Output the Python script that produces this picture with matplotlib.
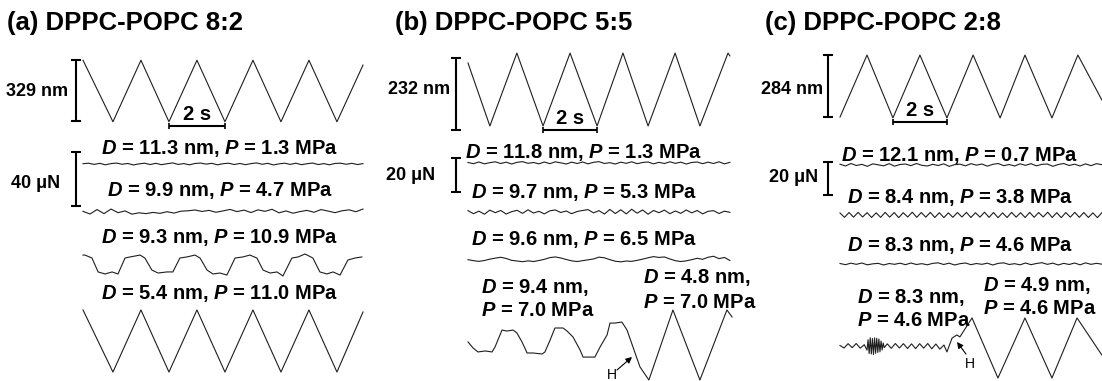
import numpy as np
import matplotlib
matplotlib.use('Agg')
import matplotlib.pyplot as plt
import matplotlib.patches as patches

plt.rcParams['font.family'] = ['Liberation Sans', 'DejaVu Sans']
plt.rcParams['mathtext.fontset'] = 'custom'
plt.rcParams['mathtext.it'] = 'Liberation Sans:italic:bold'
plt.rcParams['mathtext.rm'] = 'Liberation Sans:bold'
plt.rcParams['mathtext.bf'] = 'Liberation Sans:bold'

# ---------------- data (time in s, drive in nm, friction in uN) ----------------
titles = ['(a) DPPC-POPC 8:2', '(b) DPPC-POPC 5:5', '(c) DPPC-POPC 2:8']
drive_span = [329, 232, 284]       # nm scale bars
force_span = [40, 20, 20]          # uN scale bars

# drive (upper) triangle traces
drive_a_t = [0, 1.07, 2.07, 3.07, 4.07, 5.07, 6.07, 7.07, 8.07, 9.07, 10.0]
drive_a_v = [166, -166, 166, -166, 166, -166, 166, -166, 166, -166, 140]
drive_b_t = [0, 0.81, 1.81, 2.78, 3.78, 4.78, 5.74, 6.67, 7.67, 8.59, 9.63, 9.7]
drive_b_v = [87, -116, 119, -116, 119, -116, 119, -116, 119, -116, 119, 110]
drive_c_t = [0, 1.0, 1.96, 2.96, 3.96, 4.93, 5.93, 6.85, 7.85, 8.81, 9.7]
drive_c_v = [-140, 144, -144, 144, -144, 144, -144, 144, -144, 144, -62]

# panel (a) friction traces
fa1 = [0.2, 0.6, -0.3, 0.5, -0.6, 0.3, 0.7, -0.2, 0.4, -0.7, 0.1, 0.6, -0.4, 0.5, -0.5, 0.2,
       0.8, -0.3, 0.3, -0.6, 0.4, 0.7, -0.1, 0.5, -0.6, 0.2, 0.6, -0.4, 0.4, -0.5, 0.3, 0.8,
       -0.2, 0.5, -0.7, 0.1, 0.6, -0.3, 0.6, -0.5, 0.2, 0.7, -0.4, 0.3, -0.6, 0.4, 0.6, -0.2,
       0.5, -0.4, 0.3]
fa2 = [0.5, -1.5, 1.8, -1.2, 2.2, -0.5, 0.8, -1.6, -0.6, -1.2, -0.3, -1.0, 0.2, -0.8, 0.6,
       0.9, 1.5, 0.4, 1.2, -0.2, 0.8, 1.9, 0.3, 1.4, -0.4, 1.6, 0.5, 2.0, -0.6, 0.8, -0.9,
       0.3, 1.2, -0.2, 1.8, 0.7, -0.5, 0.9, 1.6, 0.2, 2.2]
fa3_t = [0, 0.07, 0.32, 0.54, 0.79, 1.04, 1.25, 1.5, 1.68, 2.04, 2.21, 2.46, 2.68, 3.0, 3.21,
         3.46, 3.71, 4.0, 4.18, 4.43, 4.64, 4.89, 5.14, 5.43, 5.71, 5.96, 6.21, 6.43, 6.68,
         6.93, 7.14, 7.46, 7.68, 7.93, 8.21, 8.46, 8.71, 8.93, 9.18, 9.46, 9.71, 9.96]
fa3_v = [8.1, 8.1, 5.9, -4.4, -5.9, -4.4, -5.9, 5.9, 6.7, 8.1, 5.9, -3.0, -5.2, -4.4, -4.4,
         5.9, 6.7, 8.1, 5.9, -3.0, -5.9, -5.2, -6.7, 5.9, 6.7, 8.1, 5.9, -3.0, -5.2, -4.4,
         -7.4, 5.9, 6.7, 8.9, 5.9, -4.4, -5.9, -4.4, -6.7, 4.4, 5.9, 6.7]
fa4_t = [0, 1.07, 2.07, 3.07, 4.07, 5.07, 6.07, 7.07, 8.07, 9.07, 10.0]
fa4_v = [23, -23, 23, -23, 23, -23, 23, -23, 23, -23, 21.5]

# panel (b) friction traces
fb1 = [0.3, -0.4, 0.6, -0.5, 0.2, 0.7, -0.3, 0.5, -0.6, 0.4, 0.8, -0.2, 0.3, -0.5, 0.6, -0.4,
       0.7, 0.1, -0.6, 0.5, -0.3, 0.6, -0.5, 0.4, 0.8, -0.3, 0.2, -0.6, 0.5, -0.2, 0.7, -0.4,
       0.3, 0.6, -0.5, 0.4, -0.3, 0.7, -0.2, 0.5, -0.6, 0.3, 0.6, -0.4, 0.5, -0.3, 0.7, -0.5, 0.4]
fb2 = [0.8, -1.0, 0.5, -1.3, 1.1, -0.4, 0.9, -1.2, 0.2, 1.0, -0.8, 1.3, -0.6, 0.4, -1.1, 0.7,
       1.2, -0.3, 0.6, -1.0, 0.3, 0.9, 1.4, -0.5, 0.8, -1.2, 1.5, -0.9, 1.3, -1.1, 1.6, -0.7,
       1.2, -1.3, 0.9, -0.4, 1.1, -1.0, 0.6, -0.8, 1.2, -0.5, 0.9, -1.1, 0.4, 0.8, -0.9, 0.5, -0.2]
fb3 = [0.2, -0.4, -0.8, -0.3, 0.5, 1.1, 1.6, 0.9, -0.2, -0.6, -1.0, -0.5, -0.9, -0.3, 0.4, 1.4,
       1.8, 1.2, 0.3, -0.5, -0.9, -0.4, 0.1, 0.6, 1.7, 1.3, 0.2, -0.7, -1.1, -0.6, -0.8, -0.2,
       0.5, 1.3, 2.0, 1.5, 1.8, 0.6, -0.4, -0.9, -0.5, 0.2, 1.0, 0.4, 1.6, 2.2, 0.8, 1.5, -0.3]
fb4_t = [0, 0.19, 0.37, 0.63, 0.89, 1.0, 1.26, 1.44, 1.67, 1.81, 2.0, 2.19, 2.41, 2.74, 2.85,
         3.04, 3.22, 3.52, 3.67, 3.89, 4.15, 4.26, 4.52, 4.70, 4.89, 5.15, 5.26, 5.44, 5.70,
         5.89, 6.11, 6.37, 6.70, 7.59, 8.59, 9.59, 9.78]
fb4_v = [1.8, -1.8, -4.1, -3.5, -4.1, -1.2, 8.8, 8.2, 8.8, 7.1, 1.8, -4.7, -4.7, -5.3, -4.1,
         2.9, 10.0, 10.0, 8.2, 4.7, -2.9, -7.1, -7.1, -7.1, -1.2, 5.9, 12.9, 12.9, 13.5,
         8.8, -1.2, -12.9, -20.6, 20.6, -20.6, 20.6, 16.5]

# panel (c) friction traces
fc1 = [0.5, -0.6, 0.9, -0.3, 0.4, -0.8, 0.7, 0.1, -0.5, 0.8, -0.7, 0.3, 0.6, -0.4, 0.9, -0.2,
       -0.6, 0.4, -0.3, 0.7, -0.8, 0.2, 0.5, -0.5, 0.8, -0.1, 0.6, -0.7, 0.4, 0.9, -0.4, 0.3,
       -0.6, 0.7, -0.2, 0.8, -0.5, 0.4, 0.6, -0.8, 0.3, 0.9, -0.3, 0.5, -0.6, 0.7, -0.4, 0.8, 0.2]
fc2 = [1.2, -1.4, 1.5, -1.3, 1.6, -1.2, 1.4, -1.5, 1.3, -1.4, 1.6, -1.3, 1.5, -1.6, 1.4, -1.2,
       1.7, -1.4, 1.5, -1.3, 1.6, -1.5, 1.4, -1.6, 1.3, -1.4, 1.5, -1.2, 1.6, -1.5, 1.4, -1.3,
       1.7, -1.4, 1.5, -1.6, 1.3, -1.5, 1.6, -1.3, 1.4, -1.5, 1.6, -1.4, 1.5, -1.2, 1.7, -1.5,
       1.4, -1.6, 1.5, -1.3, 1.6, -1.4, 1.5, -1.5, 1.3, -1.6, 1.4]
fc3 = [0.3, -0.4, 0.5, -0.2, 0.6, -0.5, 0.1, 0.4, -0.6, 0.3, -0.2, 0.5, -0.4, 0.6, -0.3, 0.2,
       -0.5, 0.4, 0.7, -0.3, 0.5, -0.6, 0.2, 0.6, -0.4, 0.3, -0.2, 0.5, -0.6, 0.4, 0.7, -0.3,
       0.2, -0.5, 0.6, -0.4, 0.3, 0.8, -0.2, 0.5, -0.6, 0.4, -0.3, 0.6, -0.5, 0.7, -0.2, 0.4, -0.1]
fc4_t = [0, 0.15, 0.3, 0.45, 0.6, 0.75, 0.9,
         1.0, 1.04, 1.08, 1.12, 1.16, 1.2, 1.24, 1.28, 1.32, 1.36, 1.4, 1.44, 1.48, 1.52,
         1.56, 1.6, 1.64,
         1.75, 1.9, 2.05, 2.2, 2.35, 2.5, 2.65, 2.8, 2.95, 3.1, 3.25, 3.4, 3.55, 3.7, 3.85, 3.96,
         4.15, 4.33, 4.44, 4.89, 5.85, 6.85, 7.85, 8.78, 9.7]
fc4_v = [0.3, -1.2, 1.4, -1.0, 1.5, -1.3, 0.8,
         -2.5, 3.8, -4.6, 5.0, -4.8, 4.5, -5.2, 4.9, -4.4, 4.7, -3.9, 4.2, -3.5, 3.0,
         -2.4, 1.8, -1.0,
         1.3, -1.4, 1.5, -1.2, 1.4, -1.5, 1.3, -1.6, 1.4, -1.3, 1.5, -1.7, 1.2, -1.9, 0.6, -3.6,
         4.8, 6.7, 5.5, 17.0, -19.4, 17.0, -19.4, 17.0, -5.5]

labels_a = ['$D$ = 11.3 nm, $P$ = 1.3 MPa', '$D$ = 9.9 nm, $P$ = 4.7 MPa',
            '$D$ = 9.3 nm, $P$ = 10.9 MPa', '$D$ = 5.4 nm, $P$ = 11.0 MPa']
labels_b = ['$D$ = 11.8 nm, $P$ = 1.3 MPa', '$D$ = 9.7 nm, $P$ = 5.3 MPa',
            '$D$ = 9.6 nm, $P$ = 6.5 MPa']
labels_c = ['$D$ = 12.1 nm, $P$ = 0.7 MPa', '$D$ = 8.4 nm, $P$ = 3.8 MPa',
            '$D$ = 8.3 nm, $P$ = 4.6 MPa']

# ---------------- layout ----------------
W, H = 1102, 381
fig = plt.figure(figsize=(W / 100, H / 100), dpi=100)
LC = '#1e1e1e'


def lane(x0, y0, pps, ppu):
    # full-figure axes where (t=0, v=0) sits at pixel (x0, y0) from top-left
    ax = fig.add_axes([0, 0, 1, 1])
    ax.set_xlim(-x0 / pps, (W - x0) / pps)
    ax.set_ylim(-(H - y0) / ppu, y0 / ppu)
    ax.axis('off')
    return ax


def txt(x, y, s, size=14.5, ha='center', weight='bold'):
    fig.text(x / W, 1 - y / H, s, ha=ha, va='center', fontsize=size,
             fontweight=weight, color='black')


def vbar(ax, t, lo, hi):
    ax.plot([t, t], [lo, hi], color='black', lw=1.5, solid_capstyle='butt')
    ax.plot([t, t], [lo, hi], ls='none', marker='_', ms=7, mew=1.5, color='black')


def hbar(ax, t1, t2, v):
    ax.plot([t1, t2], [v, v], color='black', lw=1.5, solid_capstyle='butt')
    ax.plot([t1, t2], [v, v], ls='none', marker='|', ms=5, mew=1.2, color='black')


def arrow(x1, y1, x2, y2):
    fig.add_artist(patches.FancyArrowPatch((x1 / W, 1 - y1 / H), (x2 / W, 1 - y2 / H),
                                           transform=fig.transFigure, arrowstyle='-|>',
                                           mutation_scale=9, lw=0.8, color='black',
                                           shrinkA=0, shrinkB=0))


def grid(vals, tend):
    return np.linspace(0, tend, len(vals))


# ---- panel (a) ----
ax = lane(83, 91, 28, 61 / 329)
ax.plot(drive_a_t, drive_a_v, color=LC, lw=0.8)
vbar(ax, -0.25, -drive_span[0] / 2, drive_span[0] / 2)
hbar(ax, 3.07, 5.07, -189)

ax = lane(83, 164, 28, 1.35)
ax.plot(grid(fa1, 10), fa1, color=LC, lw=0.8)
vbar(ax, -0.25, 8.9 - force_span[0], 8.9)
ax = lane(83, 212, 28, 1.35)
ax.plot(grid(fa2, 10), fa2, color=LC, lw=0.8)
ax = lane(83, 266, 28, 1.35)
ax.plot(fa3_t, fa3_v, color=LC, lw=0.8)
ax = lane(83, 341, 28, 1.35)
ax.plot(fa4_t, fa4_v, color=LC, lw=0.8)

txt(7, 23, titles[0], size=18.5, ha='left')
txt(68, 92, f'{drive_span[0]} nm', size=13, ha='right')
txt(60, 184, f'{force_span[0]} μN', size=13, ha='right')
txt(197, 114, '2 s', size=14.5)
for s, y in zip(labels_a, [148, 190, 238, 293]):
    txt(220, y, s)

# ---- panel (b) ----
ax = lane(468, 90, 27, 72 / 232)
ax.plot(drive_b_t, drive_b_v, color=LC, lw=0.8)
vbar(ax, -0.44, 103 - drive_span[1], 103)
hbar(ax, 2.78, 4.78, -129)

ax = lane(468, 163, 27, 1.7)
ax.plot(grid(fb1, 9.7), fb1, color=LC, lw=0.8)
vbar(ax, -0.44, 2.9 - force_span[1], 2.9)
ax = lane(468, 212, 27, 1.7)
ax.plot(grid(fb2, 9.7), fb2, color=LC, lw=0.8)
ax = lane(468, 260, 27, 1.7)
ax.plot(grid(fb3, 9.7), fb3, color=LC, lw=0.8)
ax = lane(468, 345, 27, 1.7)
ax.plot(fb4_t, fb4_v, color=LC, lw=0.8)

txt(395, 23, titles[1], size=18.5, ha='left')
txt(450, 90, f'{drive_span[1]} nm', size=13, ha='right')
txt(435, 176, f'{force_span[1]} μN', size=13, ha='right')
txt(570, 118, '2 s', size=14.5)
for s, y in zip(labels_b, [153, 193, 240]):
    txt(584, y, s)
txt(481, 287, '$D$ = 9.4 nm,', ha='left')
txt(481, 310, '$P$ = 7.0 MPa', ha='left')
txt(643, 278, '$D$ = 4.8 nm,', ha='left')
txt(643, 302, '$P$ = 7.0 MPa', ha='left')
txt(612, 375, 'H', size=10, weight='normal')
arrow(617, 370, 632, 357)

# ---- panel (c) ----
ax = lane(840, 86.5, 27, 62 / 284)
ax.plot(drive_c_t, drive_c_v, color=LC, lw=0.8)
vbar(ax, -0.44, -drive_span[2] / 2, drive_span[2] / 2)
hbar(ax, 1.96, 3.96, -163)

ax = lane(840, 165, 27, 1.65)
ax.plot(grid(fc1, 9.7), fc1, color=LC, lw=0.8)
vbar(ax, -0.44, 1.8 - force_span[2], 1.8)
ax = lane(840, 215, 27, 1.65)
ax.plot(grid(fc2, 9.7), fc2, color=LC, lw=0.8)
ax = lane(840, 264, 27, 1.65)
ax.plot(grid(fc3, 9.7), fc3, color=LC, lw=0.8)
ax = lane(840, 346, 27, 1.65)
ax.plot(fc4_t, fc4_v, color=LC, lw=0.8)

txt(765, 23, titles[2], size=18.5, ha='left')
txt(823, 90, f'{drive_span[2]} nm', size=13, ha='right')
txt(818, 177, f'{force_span[2]} μN', size=13, ha='right')
txt(920, 111, '2 s', size=14.5)
for s, y in zip(labels_c, [155, 198, 245]):
    txt(960, y, s)
txt(857, 298, '$D$ = 8.3 nm,', ha='left')
txt(857, 321, '$P$ = 4.6 MPa', ha='left')
txt(983, 285, '$D$ = 4.9 nm,', ha='left')
txt(983, 308, '$P$ = 4.6 MPa', ha='left')
txt(970, 364, 'H', size=10, weight='normal')
arrow(966, 354, 957, 342)

fig.savefig('out.png', dpi=100, facecolor='white')
